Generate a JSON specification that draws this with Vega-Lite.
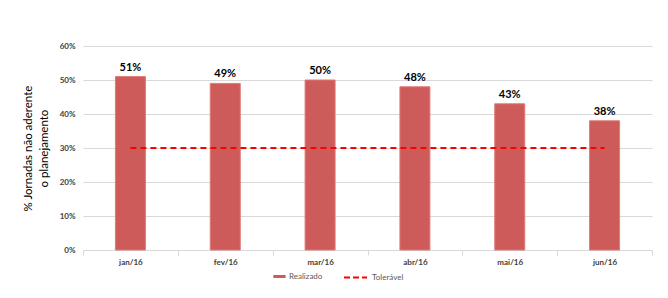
{
  "$schema": "https://vega.github.io/schema/vega-lite/v6.json",
  "width": 569,
  "height": 204,
  "autosize": {"type": "none"},
  "padding": {"left": 83, "top": 46, "right": 16, "bottom": 48},
  "background": "white",
  "config": {
    "view": {"stroke": null},
    "font": "Lato"
  },
  "data": {
    "values": [
      {"mes": "jan/16", "serie": "Realizado", "valor": 0.51},
      {"mes": "fev/16", "serie": "Realizado", "valor": 0.49},
      {"mes": "mar/16", "serie": "Realizado", "valor": 0.50},
      {"mes": "abr/16", "serie": "Realizado", "valor": 0.48},
      {"mes": "mai/16", "serie": "Realizado", "valor": 0.43},
      {"mes": "jun/16", "serie": "Realizado", "valor": 0.38},
      {"mes": "jan/16", "serie": "Tolerável", "valor": 0.30},
      {"mes": "fev/16", "serie": "Tolerável", "valor": 0.30},
      {"mes": "mar/16", "serie": "Tolerável", "valor": 0.30},
      {"mes": "abr/16", "serie": "Tolerável", "valor": 0.30},
      {"mes": "mai/16", "serie": "Tolerável", "valor": 0.30},
      {"mes": "jun/16", "serie": "Tolerável", "valor": 0.30}
    ]
  },
  "encoding": {
    "x": {
      "field": "mes", "type": "nominal", "sort": null,
      "scale": {"paddingInner": 0, "paddingOuter": 0},
      "axis": {
        "title": null, "labelAngle": 0, "labelFont": "Lato", "labelFontWeight": "bold",
        "labelFontSize": 8, "labelColor": "#404040", "domainColor": "#d9d9d9",
        "tickColor": "#d9d9d9", "tickBand": "extent", "tickSize": 5, "labelPadding": 3
      }
    },
    "y": {
      "field": "valor", "type": "quantitative",
      "scale": {"domain": [0, 0.6]},
      "axis": {
        "title": ["% Jornadas não aderente", "o planejamento"],
        "titleFont": "Lato", "titleFontSize": 11.5, "titleFontWeight": "normal", "titleColor": "#000000",
        "titlePadding": 10, "titleAlign": "center", "titleAnchor": "middle", "titleLineHeight": 16,
        "format": ".0%", "values": [0, 0.1, 0.2, 0.3, 0.4, 0.5, 0.6],
        "labelFont": "Lato", "labelFontWeight": "bold", "labelFontSize": 8, "labelColor": "#404040",
        "labelPadding": 8, "domain": false, "ticks": false, "gridColor": "#d9d9d9"
      }
    }
  },
  "layer": [
    {
      "transform": [{"filter": "datum.serie == 'Realizado'"}],
      "mark": {"type": "bar", "size": 30, "stroke": "#e07a78", "strokeWidth": 1},
      "encoding": {
        "fill": {
          "field": "serie", "type": "nominal",
          "scale": {"domain": ["Realizado"], "range": ["#CD5B5A"]},
          "legend": {
            "title": null, "orient": "none", "legendX": 190, "legendY": 224, "direction": "horizontal",
            "symbolType": "M-1,-0.25H1V0.25H-1Z", "symbolSize": 150, "symbolStrokeWidth": 0,
            "labelFont": "Lato", "labelFontSize": 8, "labelColor": "#595959", "labelOffset": 3
          }
        }
      }
    },
    {
      "transform": [{"filter": "datum.serie == 'Realizado'"}],
      "mark": {"type": "text", "dy": -9, "fontWeight": "bold", "fontSize": 11, "font": "Lato", "color": "#000000"},
      "encoding": {
        "text": {"field": "valor", "type": "quantitative", "format": ".0%"}
      }
    },
    {
      "transform": [{"filter": "datum.serie == 'Tolerável'"}],
      "mark": {"type": "line", "strokeDash": [6, 4], "strokeWidth": 2},
      "encoding": {
        "stroke": {
          "field": "serie", "type": "nominal",
          "scale": {"domain": ["Tolerável"], "range": ["#FF0000"]},
          "legend": {
            "title": null, "orient": "none", "legendX": 260, "legendY": 219, "direction": "horizontal",
            "symbolType": "stroke", "symbolStrokeWidth": 2, "symbolDash": [6, 3], "symbolSize": 529,
            "labelFont": "Lato", "labelFontSize": 8, "labelColor": "#595959", "labelOffset": 4
          }
        }
      }
    }
  ],
  "resolve": {"legend": {"fill": "independent", "stroke": "independent"}}
}
